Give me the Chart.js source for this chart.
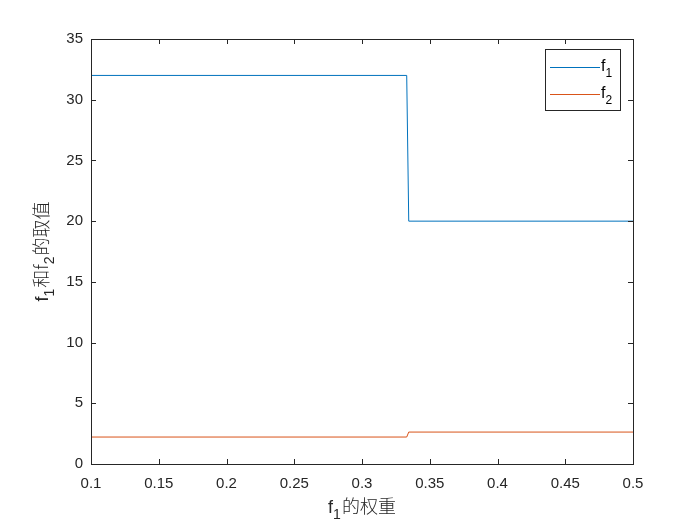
<!DOCTYPE html>
<html>
<head>
<meta charset="utf-8">
<script src="https://cdn.jsdelivr.net/npm/chart.js@4.4.1/dist/chart.umd.min.js"></script>
<style>
  html, body { margin: 0; padding: 0; background: #fff; }
  #wrap { width: 700px; height: 525px; }
</style>
</head>
<body>
<div id="wrap"><canvas id="c"></canvas></div>
<script>
// step data (x = weight of f1)
const f1X = [0.1, 0.333, 0.3345, 0.5];
const f1Y = [32, 32, 20, 20];
const f2X = [0.1, 0.333, 0.3345, 0.5];
const f2Y = [2.22, 2.22, 2.63, 2.63];
const xTicks = [0.1, 0.15, 0.2, 0.25, 0.3, 0.35, 0.4, 0.45, 0.5];
const yTicks = [0, 5, 10, 15, 20, 25, 30, 35];

const BLUE = '#0072BD';
const ORANGE = '#D95319';
const FONT = '"Liberation Sans", Arial, sans-serif';
const CJK = '"Noto Sans CJK SC", sans-serif';

const toPts = (xs, ys) => xs.map((x, i) => ({ x: x, y: ys[i] }));

// draw text pieces, subscripts shifted down
function drawRich(ctx, parts, x, y) {
    let cx = x;
    parts.forEach(p => {
        ctx.font = p.font;
        ctx.fillText(p.t, cx, y + (p.sub ? 6 : 0));
        cx += ctx.measureText(p.t).width + (p.gap || 0);
    });
    return cx - x;
}
function richWidth(ctx, parts) {
    let w = 0;
    parts.forEach(p => { ctx.font = p.font; w += ctx.measureText(p.t).width + (p.gap || 0); });
    return w;
}

const frame = {
    id: 'frame',
    afterDraw(chart) {
        const ctx = chart.ctx;
        const a = chart.chartArea;
        const xs = chart.scales.x, ys = chart.scales.y;
        ctx.save();
        ctx.strokeStyle = '#262626';
        ctx.lineWidth = 1;
        ctx.strokeRect(Math.round(a.left) + 0.5, Math.round(a.top) + 0.5,
            Math.round(a.right - a.left), Math.round(a.bottom - a.top));
        // inward ticks
        ctx.beginPath();
        xTicks.forEach(v => {
            const px = Math.round(xs.getPixelForValue(v)) + 0.5;
            ctx.moveTo(px, a.bottom); ctx.lineTo(px, a.bottom - 5);
            ctx.moveTo(px, a.top); ctx.lineTo(px, a.top + 5);
        });
        yTicks.forEach(v => {
            const py = Math.round(ys.getPixelForValue(v)) + 0.5;
            ctx.moveTo(a.left, py); ctx.lineTo(a.left + 5, py);
            ctx.moveTo(a.right, py); ctx.lineTo(a.right - 5, py);
        });
        ctx.stroke();

        ctx.fillStyle = '#262626';
        ctx.textBaseline = 'alphabetic';
        ctx.textAlign = 'left';
        // x title
        const xt = [
            { t: 'f', font: '18px ' + FONT },
            { t: '1', font: '14px ' + FONT, sub: true, gap: 1 },
            { t: '的权重', font: '300 18px ' + CJK }
        ];
        const xw = richWidth(ctx, xt);
        drawRich(ctx, xt, (a.left + a.right) / 2 - xw / 2, 513);
        // y title (rotated)
        const yt = [
            { t: 'f', font: '18px ' + FONT },
            { t: '1', font: '14px ' + FONT, sub: true, gap: 1 },
            { t: '和f', font: '300 18px ' + CJK },
            { t: '2', font: '14px ' + FONT, sub: true, gap: 1 },
            { t: '的取值', font: '300 18px ' + CJK }
        ];
        const yw = richWidth(ctx, yt);
        ctx.save();
        ctx.translate(48, (a.top + a.bottom) / 2);
        ctx.rotate(-Math.PI / 2);
        drawRich(ctx, yt, -yw / 2, 0);
        ctx.restore();

        // legend
        ctx.fillStyle = '#fff';
        ctx.fillRect(545.5, 49.5, 75, 61);
        ctx.strokeStyle = '#262626';
        ctx.strokeRect(545.5, 49.5, 75, 61);
        [[BLUE, '1', 67], [ORANGE, '2', 94]].forEach(([c, s, y]) => {
            ctx.strokeStyle = c;
            ctx.beginPath();
            ctx.moveTo(550, y + 0.5); ctx.lineTo(600, y + 0.5);
            ctx.stroke();
            ctx.fillStyle = '#000';
            drawRich(ctx, [
                { t: 'f', font: '16px ' + FONT },
                { t: s, font: '12px ' + FONT, sub: true }
            ], 601, y + 4);
        });
        ctx.restore();
    }
};

new Chart(document.getElementById('c'), {
    type: 'line',
    data: {
        datasets: [
            { label: 'f1', data: toPts(f1X, f1Y), borderColor: BLUE, borderWidth: 1, pointRadius: 0, tension: 0, fill: false },
            { label: 'f2', data: toPts(f2X, f2Y), borderColor: ORANGE, borderWidth: 1, pointRadius: 0, tension: 0, fill: false }
        ]
    },
    options: {
        responsive: true,
        maintainAspectRatio: false,
        animation: false,
        layout: { padding: { left: 0, top: 39, right: 67, bottom: 0 } },
        scales: {
            x: {
                type: 'linear',
                min: 0.1, max: 0.5,
                afterBuildTicks: s => { s.ticks = xTicks.map(v => ({ value: v })); },
                afterFit: s => { s.height = 61; },
                grid: { display: false },
                border: { display: false },
                ticks: {
                    color: '#262626',
                    font: { family: FONT, size: 15 },
                    padding: 3,
                    maxRotation: 0,
                    callback: v => String(+v.toFixed(2))
                }
            },
            y: {
                min: 0, max: 35,
                afterBuildTicks: s => { s.ticks = yTicks.map(v => ({ value: v })); },
                afterFit: s => { s.width = 91; },
                grid: { display: false },
                border: { display: false },
                ticks: {
                    color: '#262626',
                    font: { family: FONT, size: 15 },
                    padding: 0
                }
            }
        },
        plugins: {
            legend: { display: false },
            tooltip: { enabled: false }
        }
    },
    plugins: [frame]
});
</script>
</body>
</html>
